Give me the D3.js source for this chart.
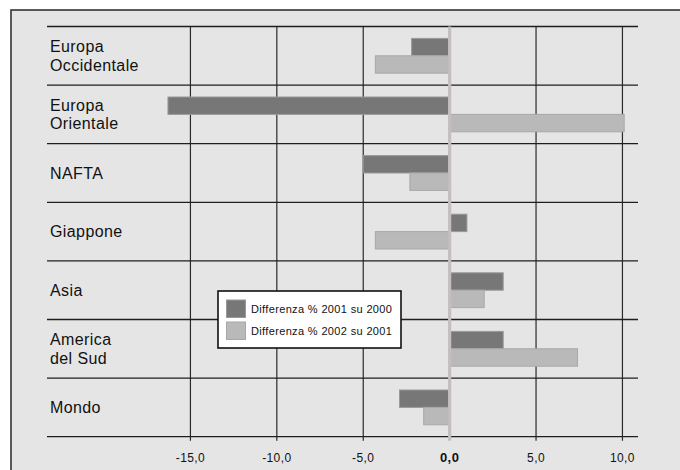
<!DOCTYPE html>
<html>
<head>
<meta charset="utf-8">
<script src="https://cdn.jsdelivr.net/npm/d3@7/dist/d3.min.js"></script>
<style>
  html, body { margin: 0; padding: 0; background: #ffffff; overflow: hidden; }
  svg { display: block; font-family: "Liberation Sans", Arial, Helvetica, sans-serif; }
</style>
</head>
<body>
<svg id="chart" width="680" height="470"></svg>
<script>
// ---- data ----
const categories = [
  ["Europa", "Occidentale"],
  ["Europa", "Orientale"],
  ["NAFTA"],
  ["Giappone"],
  ["Asia"],
  ["America", "del Sud"],
  ["Mondo"]
];
const seriesNames = ["Differenza % 2001 su 2000", "Differenza % 2002 su 2001"];
const diff2001 = [-2.2, -16.3, -5.0, 1.0, 3.1, 3.1, -2.9];
const diff2002 = [-4.3, 10.1, -2.3, -4.3, 2.0, 7.4, -1.5];
const tickValues = [-15, -10, -5, 0, 5, 10];

// ---- layout ----
const svg = d3.select("#chart");
const W = 680, H = 470;
const fillDark = "#777777", fillLight = "#b9b9b9";
const strokeDark = "#9a9a9a", strokeLight = "#a8a8a8";

// frame
svg.append("rect")
  .attr("x", 11).attr("y", 10)
  .attr("width", W + 20).attr("height", H + 20)
  .attr("fill", "#e5e5e5")
  .attr("stroke", "#333").attr("stroke-width", 1.6);

const plotLeft = 47, plotRight = 638, plotTop = 26.5, plotBottom = 436.7;
const x = d3.scaleLinear().domain([-23.3, 10.9]).range([plotLeft, plotRight]);
const keys = categories.map(c => c.join(" "));
const y = d3.scaleBand().domain(keys).range([plotTop, plotBottom]).padding(0);
const barH = 17.4;

const locale = d3.formatLocale({decimal: ",", thousands: ".", grouping: [3], currency: ["", "€"], minus: "-"});
const fmt = locale.format(".1f");

const g = svg.append("g");

// vertical grid lines (with tick marks below)
g.selectAll("line.v").data(tickValues.filter(d => d !== 0)).enter().append("line")
  .attr("x1", d => x(d)).attr("x2", d => x(d))
  .attr("y1", plotTop).attr("y2", plotBottom + 4)
  .attr("stroke", "#2a2a2a").attr("stroke-width", 1.2);

// horizontal lines (category boundaries)
const hY = keys.map(k => y(k)).concat([y(keys[keys.length - 1]) + y.bandwidth()]);
g.selectAll("line.h").data(hY).enter().append("line")
  .attr("x1", plotLeft).attr("x2", plotRight)
  .attr("y1", d => d).attr("y2", d => d)
  .attr("stroke", "#1e1e1e").attr("stroke-width", 1.3);

// bars
const series = [
  {vals: diff2001, fill: fillDark, stroke: strokeDark, idx: 0},
  {vals: diff2002, fill: fillLight, stroke: strokeLight, idx: 1}
];
series.forEach(s => {
  g.selectAll(null).data(s.vals).enter().append("rect")
    .attr("x", d => Math.min(x(0), x(d)))
    .attr("width", d => Math.abs(x(d) - x(0)))
    .attr("y", (d, i) => y(keys[i]) + y.bandwidth() / 2 - barH + s.idx * barH)
    .attr("height", barH)
    .attr("fill", s.fill)
    .attr("stroke", s.stroke).attr("stroke-width", 1);
});

// zero line
g.append("line")
  .attr("x1", x(0)).attr("x2", x(0))
  .attr("y1", plotTop).attr("y2", plotBottom + 4)
  .attr("stroke", "#c3bfbf").attr("stroke-width", 3.2);

// category labels
categories.forEach((lines, i) => {
  const cy = y(keys[i]) + y.bandwidth() / 2;
  const t = g.append("text")
    .attr("x", 50)
    .attr("font-size", 16).attr("letter-spacing", 0.4)
    .attr("fill", "#111");
  lines.forEach((ln, j) => {
    const off = (j - (lines.length - 1) / 2) * 18.4;
    t.append("tspan").attr("x", 50).attr("y", cy + off + 5.7).text(ln);
  });
});

// tick labels
g.selectAll("text.tick").data(tickValues).enter().append("text")
  .attr("x", d => x(d))
  .attr("y", 462)
  .attr("text-anchor", "middle")
  .attr("font-size", d => d === 0 ? 13 : 12)
  .attr("font-weight", d => d === 0 ? "bold" : "normal")
  .attr("letter-spacing", 0.4)
  .attr("fill", "#111")
  .text(d => fmt(d));

// legend
const lg = svg.append("g");
lg.append("rect")
  .attr("x", 218).attr("y", 291)
  .attr("width", 183).attr("height", 57)
  .attr("fill", "#ffffff").attr("stroke", "#111").attr("stroke-width", 1.6);
const legendFills = [[fillDark, strokeDark], [fillLight, strokeLight]];
seriesNames.forEach((name, i) => {
  const ly = 300 + i * 22;
  lg.append("rect")
    .attr("x", 226.5).attr("y", ly)
    .attr("width", 19).attr("height", 17.5)
    .attr("fill", legendFills[i][0]).attr("stroke", legendFills[i][1]).attr("stroke-width", 1);
  lg.append("text")
    .attr("x", 251).attr("y", ly + 12.8)
    .attr("font-size", 11).attr("letter-spacing", 0.35)
    .attr("fill", "#111")
    .text(name);
});
</script>
</body>
</html>
